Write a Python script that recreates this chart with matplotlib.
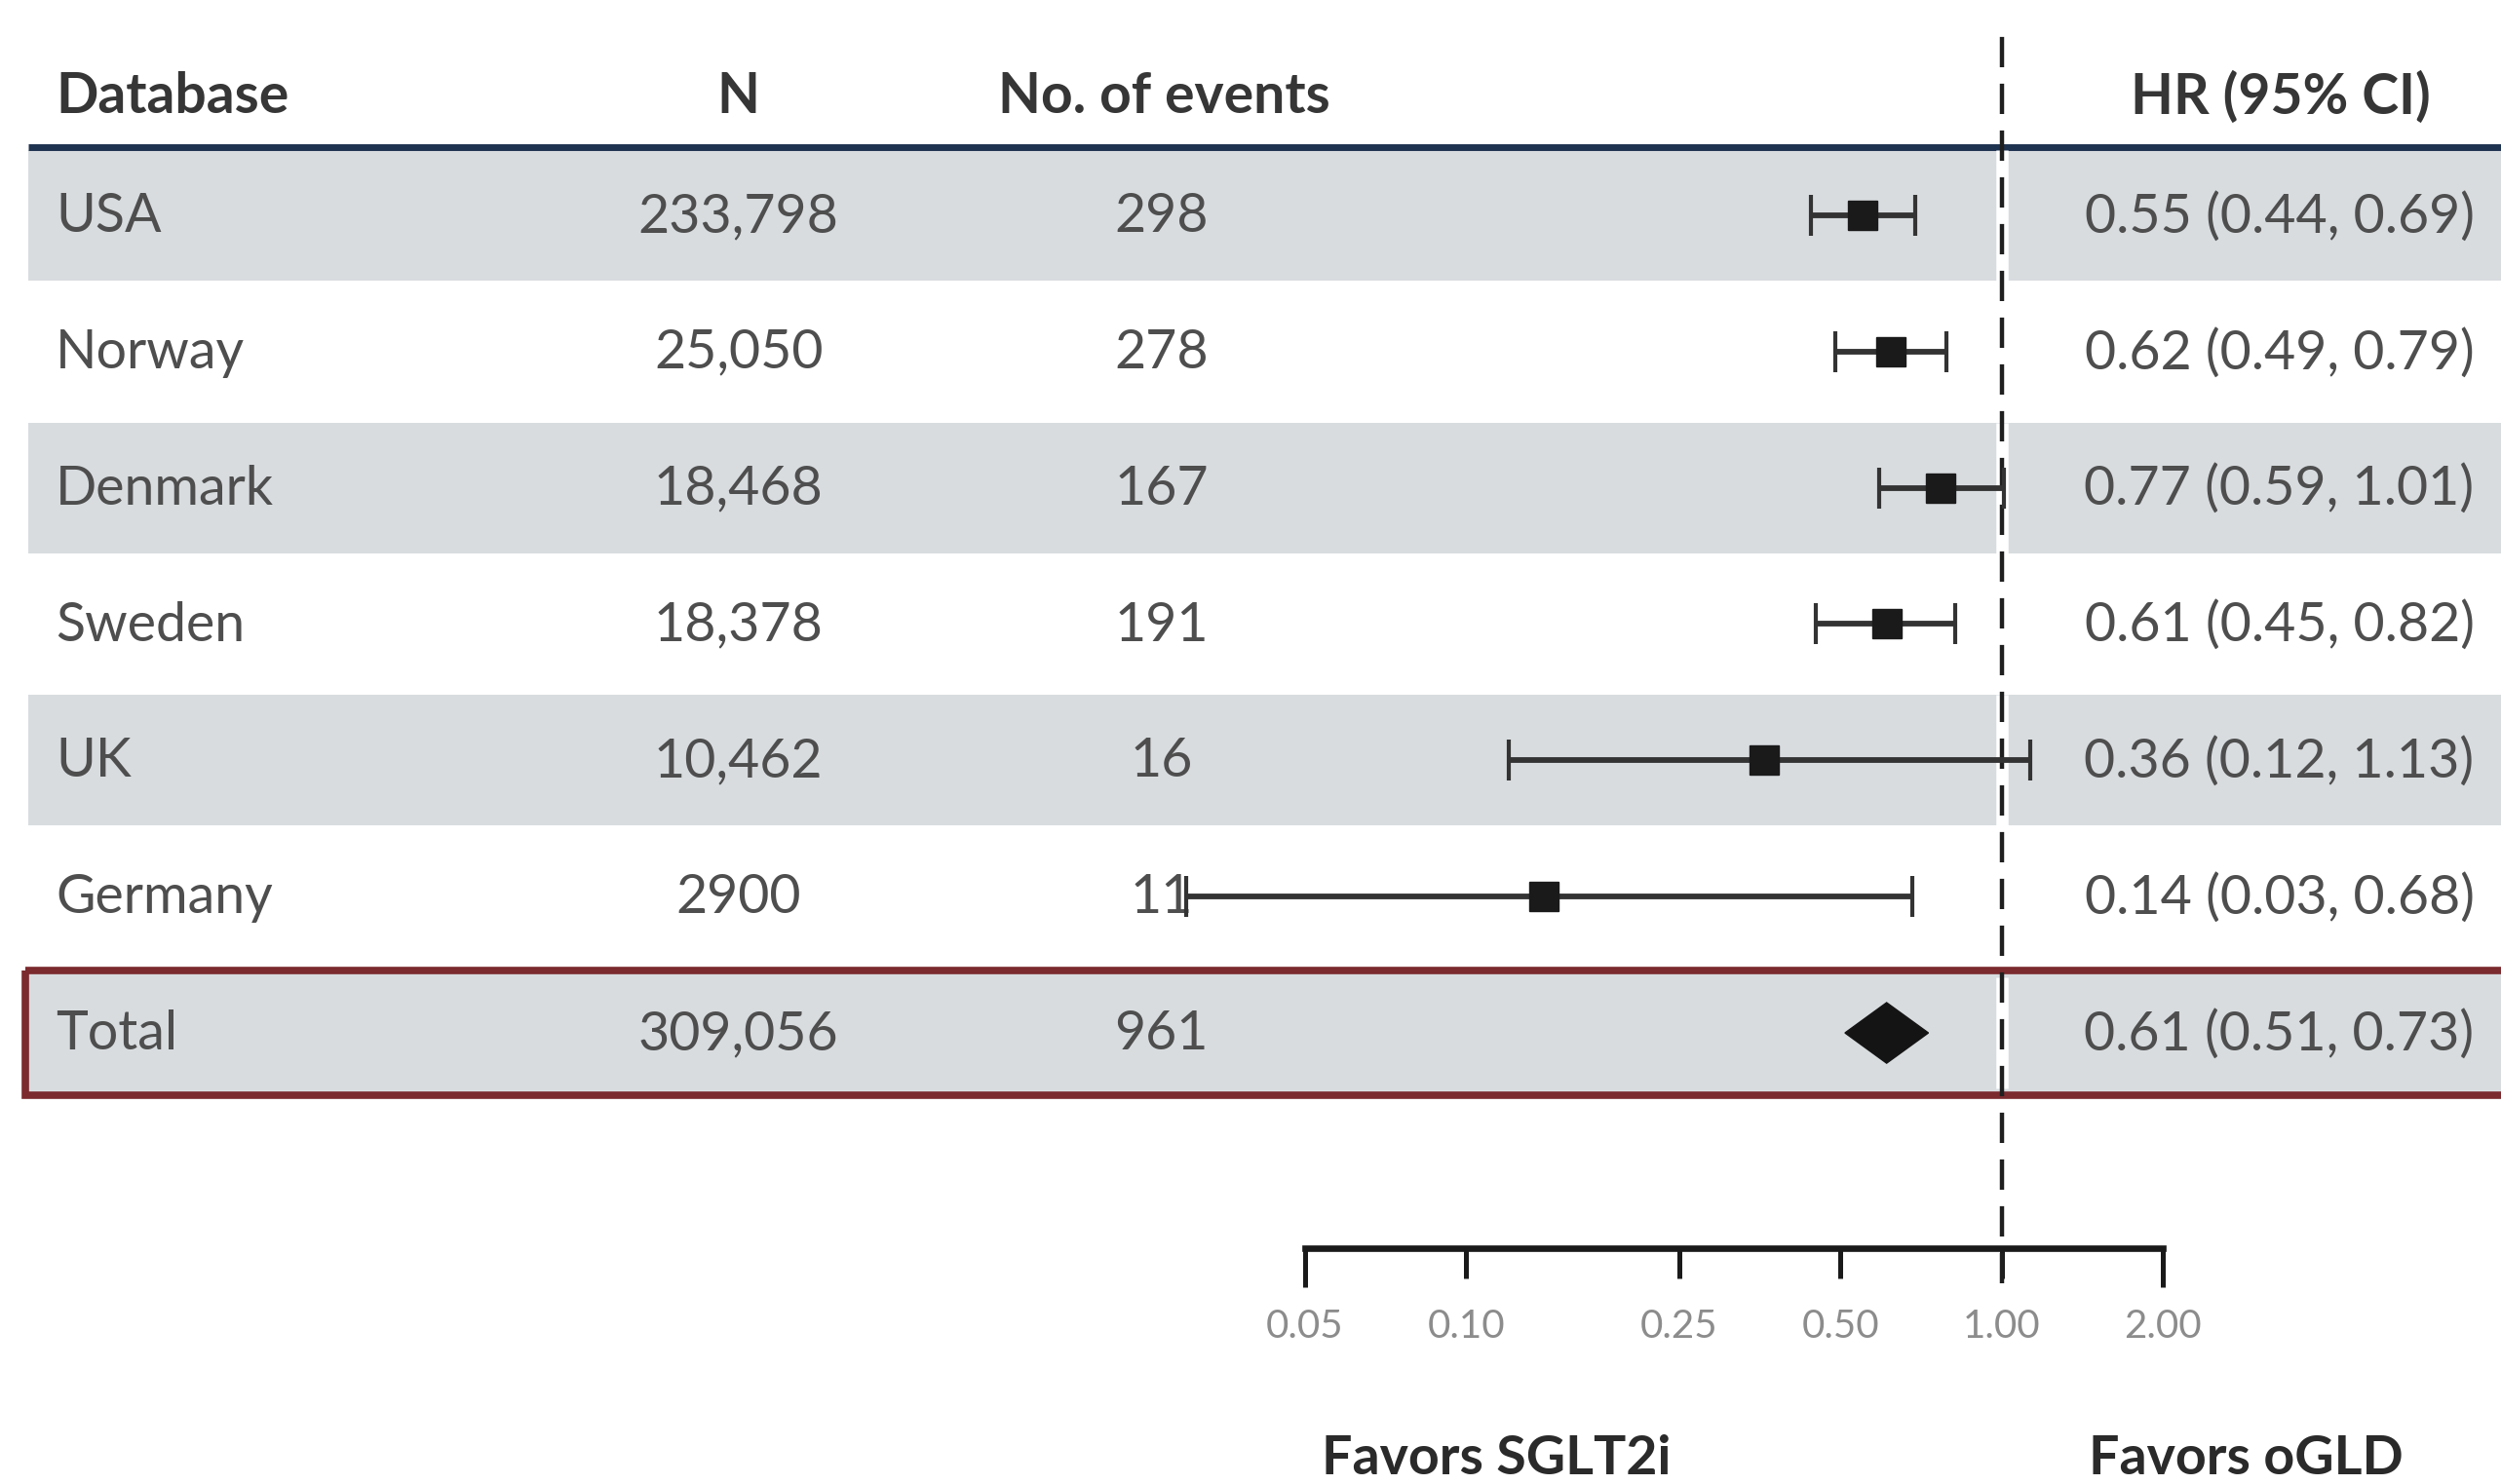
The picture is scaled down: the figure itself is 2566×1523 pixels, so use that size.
import numpy as np
import matplotlib
matplotlib.use('Agg')
import matplotlib.pyplot as plt
from matplotlib.patches import Rectangle
from matplotlib.ticker import FixedLocator, FixedFormatter

# data
databases = ['USA', 'Norway', 'Denmark', 'Sweden', 'UK', 'Germany', 'Total']
n_patients = ['233,798', '25,050', '18,468', '18,378', '10,462', '2900', '309,056']
n_events = ['298', '278', '167', '191', '16', '11', '961']
hr = [0.55, 0.62, 0.77, 0.61, 0.36, 0.14, 0.61]
ci_low = [0.44, 0.49, 0.59, 0.45, 0.12, 0.03, 0.51]
ci_high = [0.69, 0.79, 1.01, 0.82, 1.13, 0.68, 0.73]
hr_labels = ['0.55 (0.44, 0.69)', '0.62 (0.49, 0.79)', '0.77 (0.59, 1.01)',
             '0.61 (0.45, 0.82)', '0.36 (0.12, 1.13)', '0.14 (0.03, 0.68)',
             '0.61 (0.51, 0.73)']
headers = ['Database', 'N', 'No. of events', 'HR (95% CI)']
tick_vals = [0.10, 0.25, 0.50, 1.00]
end_ticks = [0.05, 2.00]

plt.rcParams['font.family'] = ['Lato', 'DejaVu Sans']

W, H = 1568, 931
fig = plt.figure(figsize=(25.66, 15.23), dpi=100)
bg = fig.add_axes([0, 0, 1, 1])
bg.set_xlim(0, W)
bg.set_ylim(H, 0)
bg.axis('off')

row_y0, row_step = 135, 85.5
rows_y = [row_y0 + row_step * i for i in range(len(databases))]

band_col = '#d8dcdf'
txt_col = '#4e4e4e'
head_col = '#363636'
fs_row = 40
fs_head = 41

# shaded rows
for i, y in enumerate(rows_y):
    if i % 2 == 0:
        bg.add_patch(Rectangle((18, y - 41), W, 82, facecolor=band_col,
                               edgecolor='none', zorder=0))

# header line and total box
bg.plot([18, W], [92, 92], color='#1e3350', lw=5, zorder=3,
        solid_capstyle='butt')
bg.add_patch(Rectangle((16, rows_y[-1] - 39), W + 20, 78, facecolor='none',
                       edgecolor='#7b2a2e', lw=5.5, zorder=3))

# header text
hx = [35, 463, 730, 1430]
bg.text(hx[0], 61, headers[0], ha='left', va='center', fontsize=fs_head,
        fontweight='bold', color=head_col)
for x, h in zip(hx[1:], headers[1:]):
    bg.text(x, 61, h, ha='center', va='center', fontsize=fs_head,
            fontweight='bold', color=head_col)

# table text
for i, y in enumerate(rows_y):
    bg.text(35, y + 1, databases[i], ha='left', va='center', fontsize=fs_row,
            color=txt_col)
    bg.text(463, y + 1, n_patients[i], ha='center', va='center',
            fontsize=fs_row, color=txt_col)
    bg.text(728, y + 1, n_events[i], ha='center', va='center',
            fontsize=fs_row, color=txt_col)
    bg.text(1429, y + 1, hr_labels[i], ha='center', va='center',
            fontsize=fs_row, color=txt_col)

bg.text(938, 915, 'Favors SGLT2i', ha='center', va='center', fontsize=40,
        fontweight='bold', color='#2a2a2a')
bg.text(1408, 915, 'Favors oGLD', ha='center', va='center', fontsize=40,
        fontweight='bold', color='#2a2a2a')

# forest panel
fa = fig.add_axes([818 / W, 0, 538 / W, 1])
fa.patch.set_visible(False)
fa.set_xscale('log')
fa.set_xlim(end_ticks[0], end_ticks[1])
fa.set_ylim(H, 0)
for s in ['top', 'left', 'right']:
    fa.spines[s].set_visible(False)
fa.spines['bottom'].set_position(('data', 783))
fa.spines['bottom'].set_linewidth(4.8)
fa.spines['bottom'].set_color('#1a1a1a')
fa.set_yticks([])

fa.xaxis.set_major_locator(FixedLocator(tick_vals))
fa.xaxis.set_major_formatter(FixedFormatter(['%.2f' % v for v in tick_vals]))
fa.xaxis.set_minor_locator(FixedLocator(end_ticks))
fa.xaxis.set_minor_formatter(FixedFormatter(['%.2f' % v for v in end_ticks]))
fa.tick_params(axis='x', which='major', direction='out', length=22, width=3.6,
               color='#1a1a1a', pad=23, labelsize=29, labelcolor='#8c8c8c')
fa.tick_params(axis='x', which='minor', direction='out', length=29, width=3.6,
               color='#1a1a1a', pad=16, labelsize=29, labelcolor='#8c8c8c')

# white halo inside the shaded rows, then dashed reference line
for i, y in enumerate(rows_y):
    if i % 2 == 0:
        half = 35 if i == len(rows_y) - 1 else 41
        fa.vlines(1.0, y - half, y + half, color='white', lw=9, zorder=1)
fa.axvline(1.0, ymin=(H - 805) / H, ymax=(H - 15) / H, color='#1f1f1f', lw=3.2,
           linestyle=(0, (7, 3.8)), zorder=2)

# study estimates
for i in range(len(databases) - 1):
    eb = fa.errorbar(hr[i], rows_y[i],
                     xerr=[[hr[i] - ci_low[i]], [ci_high[i] - hr[i]]],
                     fmt='s', color='#1a1a1a', ecolor='#333333', ms=22,
                     elinewidth=4.2, capsize=15, capthick=3, zorder=4)
    for art in eb.get_children():
        art.set_clip_on(False)

# pooled estimate diamond
t = len(databases) - 1
dh = 19
fa.fill([ci_low[t], hr[t], ci_high[t], hr[t]],
        [rows_y[t], rows_y[t] - dh, rows_y[t], rows_y[t] + dh],
        color='#141414', zorder=4)

fig.savefig('out.png', dpi=100)
